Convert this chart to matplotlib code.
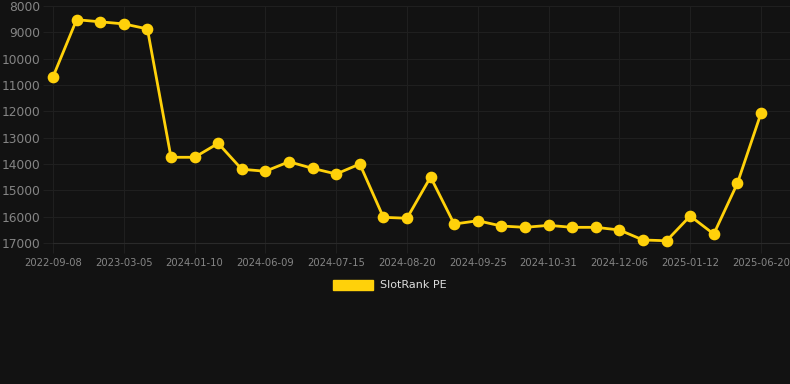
import numpy as np
import matplotlib
matplotlib.use("Agg")
import matplotlib.pyplot as plt
from matplotlib.patches import Patch

# rank values, one per snapshot (lower rank number = better, axis is inverted)
ranks = [10690, 8520, 8600, 8680, 8870, 13745, 13745, 13215, 14200, 14275,
         13915, 14165, 14380, 14000, 16025, 16060, 14495, 16280, 16155, 16355,
         16405, 16330, 16405, 16405, 16505, 16885, 16915, 15975, 16660, 14735,
         12075]
tick_labels = ["2022-09-08", "2023-03-05", "2024-01-10", "2024-06-09",
               "2024-07-15", "2024-08-20", "2024-09-25", "2024-10-31",
               "2024-12-06", "2025-01-12", "2025-06-20"]
y_ticks = [8000, 9000, 10000, 11000, 12000, 13000, 14000, 15000, 16000, 17000]
series_name = "SlotRank PE"

bg = "#121212"
grid_col = "#1f1f1f"
text_col = "#858585"
yellow = "#FFD10A"

fig = plt.figure(figsize=(7.9, 3.84), dpi=100, facecolor=bg)
ax = fig.add_axes([53/790, 141/384, 1 - 53/790, 237/384])
ax.set_facecolor(bg)

x = np.arange(len(ranks))
ax.plot(x, ranks, color=yellow, lw=2.0, marker="o", ms=7.4, zorder=3,
        clip_on=False)

ax.set_xlim(0, len(ranks) - 1 + 1.23)
ax.set_ylim(17000, 8000)
ax.set_yticks(y_ticks)
ax.set_yticklabels([str(v) for v in y_ticks])
ax.set_xticks(x[::3])
ax.set_xticklabels(tick_labels)

ax.grid(True, color=grid_col, lw=0.8)
for s in ax.spines.values():
    s.set_visible(False)
ax.spines["bottom"].set_visible(True)
ax.spines["bottom"].set_color("#2a2a2a")
ax.spines["bottom"].set_linewidth(0.8)
ax.tick_params(axis="y", colors=grid_col, labelcolor=text_col, labelsize=8.8,
               length=7, width=0.8, pad=2)
ax.tick_params(axis="x", colors=grid_col, labelcolor=text_col, labelsize=7.2,
               length=7, width=0.8, pad=4)

fig.legend(handles=[Patch(color=yellow)], labels=[series_name],
           loc="center", bbox_to_anchor=(390/790, 1 - 285/384), frameon=False,
           fontsize=8, labelcolor="#dddddd", handlelength=3.6,
           handleheight=1.0, handletextpad=0.6)

fig.savefig("out.png", dpi=100, facecolor=bg)
